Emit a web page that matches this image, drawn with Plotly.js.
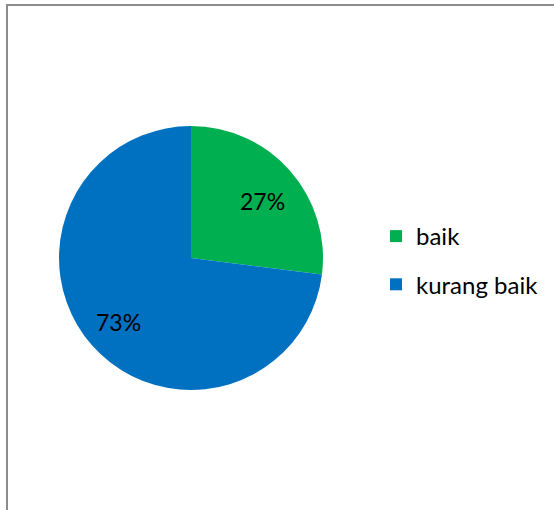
<!DOCTYPE html>
<html><head><meta charset="utf-8">
<script src="https://cdn.plot.ly/plotly-3.0.1.min.js"></script>
<style>html,body{margin:0;padding:0;background:#fff}#chart{width:554px;height:510px}</style>
</head><body><div id="chart"></div>
<script>
const categories = ["baik", "kurang baik"];
const values = [27, 73];
const colors = ["#00B050", "#0070C0"];
const FONT = "Lato, 'Open Sans', sans-serif";

// label anchor positions (paper coords) for each slice's percent text
const labelPos = [[262/554, (510-201)/510], [118/554, (510-322)/510]];

const total = values.reduce((a, b) => a + b, 0);

const traces = [{
  type: "pie",
  labels: categories,
  values: values,
  marker: {colors: colors, line: {color: "#ffffff", width: 0}},
  sort: false,
  direction: "clockwise",
  rotation: 0,
  textinfo: "none",
  hoverinfo: "none",
  showlegend: false,
  domain: {x: [59/554, 323/554], y: [(510-390)/510, (510-126)/510]}
}];
categories.forEach((c, i) => {
  traces.push({
    type: "scatter", x: [null], y: [null], mode: "markers",
    name: c, legendgroup: "g" + i,
    marker: {symbol: "square", size: 13, color: colors[i]},
    hoverinfo: "none"
  });
});

const annotations = values.map((v, i) => ({
  xref: "paper", yref: "paper", x: labelPos[i][0], y: labelPos[i][1],
  xanchor: "center", yanchor: "middle", showarrow: false,
  text: Math.round(v / total * 100) + "%",
  font: {family: FONT, size: 23, color: "#000000"}
}));

const layout = {
  width: 554, height: 510,
  margin: {l: 0, r: 0, t: 0, b: 0},
  paper_bgcolor: "#ffffff", plot_bgcolor: "rgba(0,0,0,0)",
  xaxis: {visible: false}, yaxis: {visible: false},
  showlegend: true,
  legend: {x: 376/554, y: (510-214)/510, xanchor: "left", yanchor: "top",
    font: {family: FONT, size: 24, color: "#000000"},
    tracegroupgap: 14, itemsizing: "constant", bgcolor: "rgba(0,0,0,0)"},
  annotations: annotations,
  shapes: [{type: "rect", xref: "paper", yref: "paper",
    x0: 7/554, x1: 1.05, y0: -0.05, y1: (510-5)/510,
    line: {color: "#8c8c8c", width: 2}, fillcolor: "rgba(0,0,0,0)"}]
};
Plotly.newPlot("chart", traces, layout, {displayModeBar: false, staticPlot: true});
</script></body></html>
